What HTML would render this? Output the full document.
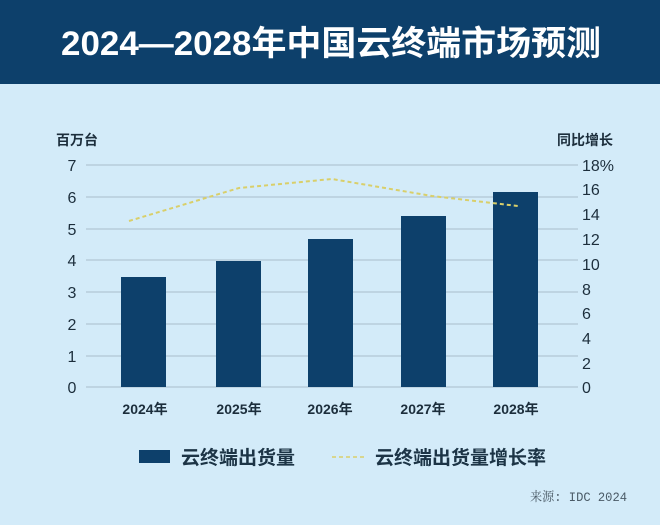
<!DOCTYPE html>
<html><head><meta charset="utf-8"><style>
body{margin:0;width:660px;height:525px;background:#d3ebf9;overflow:hidden;font-family:"Liberation Sans","Noto Sans CJK SC",sans-serif}
</style></head><body>
<svg width="660" height="525" xmlns="http://www.w3.org/2000/svg" style="position:absolute;left:0;top:0">
<rect x="0" y="0" width="660" height="84" fill="#0d406b"/>
<text x="331" y="55" text-anchor="middle" fill="#fff" font-size="34" font-weight="bold" textLength="540" lengthAdjust="spacingAndGlyphs" font-family="Liberation Sans,Noto Sans CJK SC,sans-serif">2024—2028年中国云终端市场预测</text>
<g stroke="#a9bccb" stroke-width="1">
<line x1="86" x2="578" y1="165" y2="165"/><line x1="86" x2="578" y1="197" y2="197"/><line x1="86" x2="578" y1="229" y2="229"/><line x1="86" x2="578" y1="260" y2="260"/><line x1="86" x2="578" y1="292" y2="292"/><line x1="86" x2="578" y1="324" y2="324"/><line x1="86" x2="578" y1="356" y2="356"/><line x1="86" x2="578" y1="387" y2="387"/>
</g>
<g fill="#0d406b">
<rect x="121" y="277" width="45" height="110"/><rect x="216" y="261" width="45" height="126"/><rect x="308" y="239" width="45" height="148"/><rect x="401" y="216" width="45" height="171"/><rect x="493" y="192" width="45" height="195"/>
</g>
<polyline points="129,221 239,188 332,179 432,196 518,206" fill="none" stroke="#d9cf6a" stroke-width="2" stroke-dasharray="4,3"/>
<g font-size="16" fill="#1c2e3c" font-family="Liberation Sans,Noto Sans CJK SC,sans-serif">
<text x="56" y="145" font-weight="bold" font-size="14">百万台</text>
<text x="557" y="145" font-weight="bold" font-size="14">同比增长</text>
<g text-anchor="middle"><text x="72" y="171">7</text><text x="72" y="203">6</text><text x="72" y="235">5</text><text x="72" y="266">4</text><text x="72" y="298">3</text><text x="72" y="330">2</text><text x="72" y="362">1</text><text x="72" y="393">0</text></g>
<text x="582" y="171">18%</text><text x="582" y="195">16</text><text x="582" y="220">14</text><text x="582" y="245">12</text><text x="582" y="270">10</text><text x="582" y="295">8</text><text x="582" y="319">6</text><text x="582" y="344">4</text><text x="582" y="369">2</text><text x="582" y="393">0</text>
<g text-anchor="middle" font-weight="bold" font-size="14"><text x="145" y="414">2024年</text><text x="239" y="414">2025年</text><text x="330" y="414">2026年</text><text x="423" y="414">2027年</text><text x="516" y="414">2028年</text></g>
</g>
<rect x="139" y="450" width="31" height="13" fill="#0d406b"/>
<text x="181" y="464" font-size="19" font-weight="bold" fill="#1c3446" font-family="Liberation Sans,Noto Sans CJK SC,sans-serif">云终端出货量</text>
<line x1="332" x2="366" y1="457" y2="457" stroke="#d9cf6a" stroke-width="1.5" stroke-dasharray="4,3"/>
<text x="375" y="464" font-size="19" font-weight="bold" fill="#1c3446" font-family="Liberation Sans,Noto Sans CJK SC,sans-serif">云终端出货量增长率</text>
<text x="530" y="501" font-size="13" fill="#4a5a66" textLength="97" lengthAdjust="spacingAndGlyphs" font-family="Liberation Mono,Noto Serif CJK SC,serif">来源: IDC 2024</text>
</svg>
</body></html>
